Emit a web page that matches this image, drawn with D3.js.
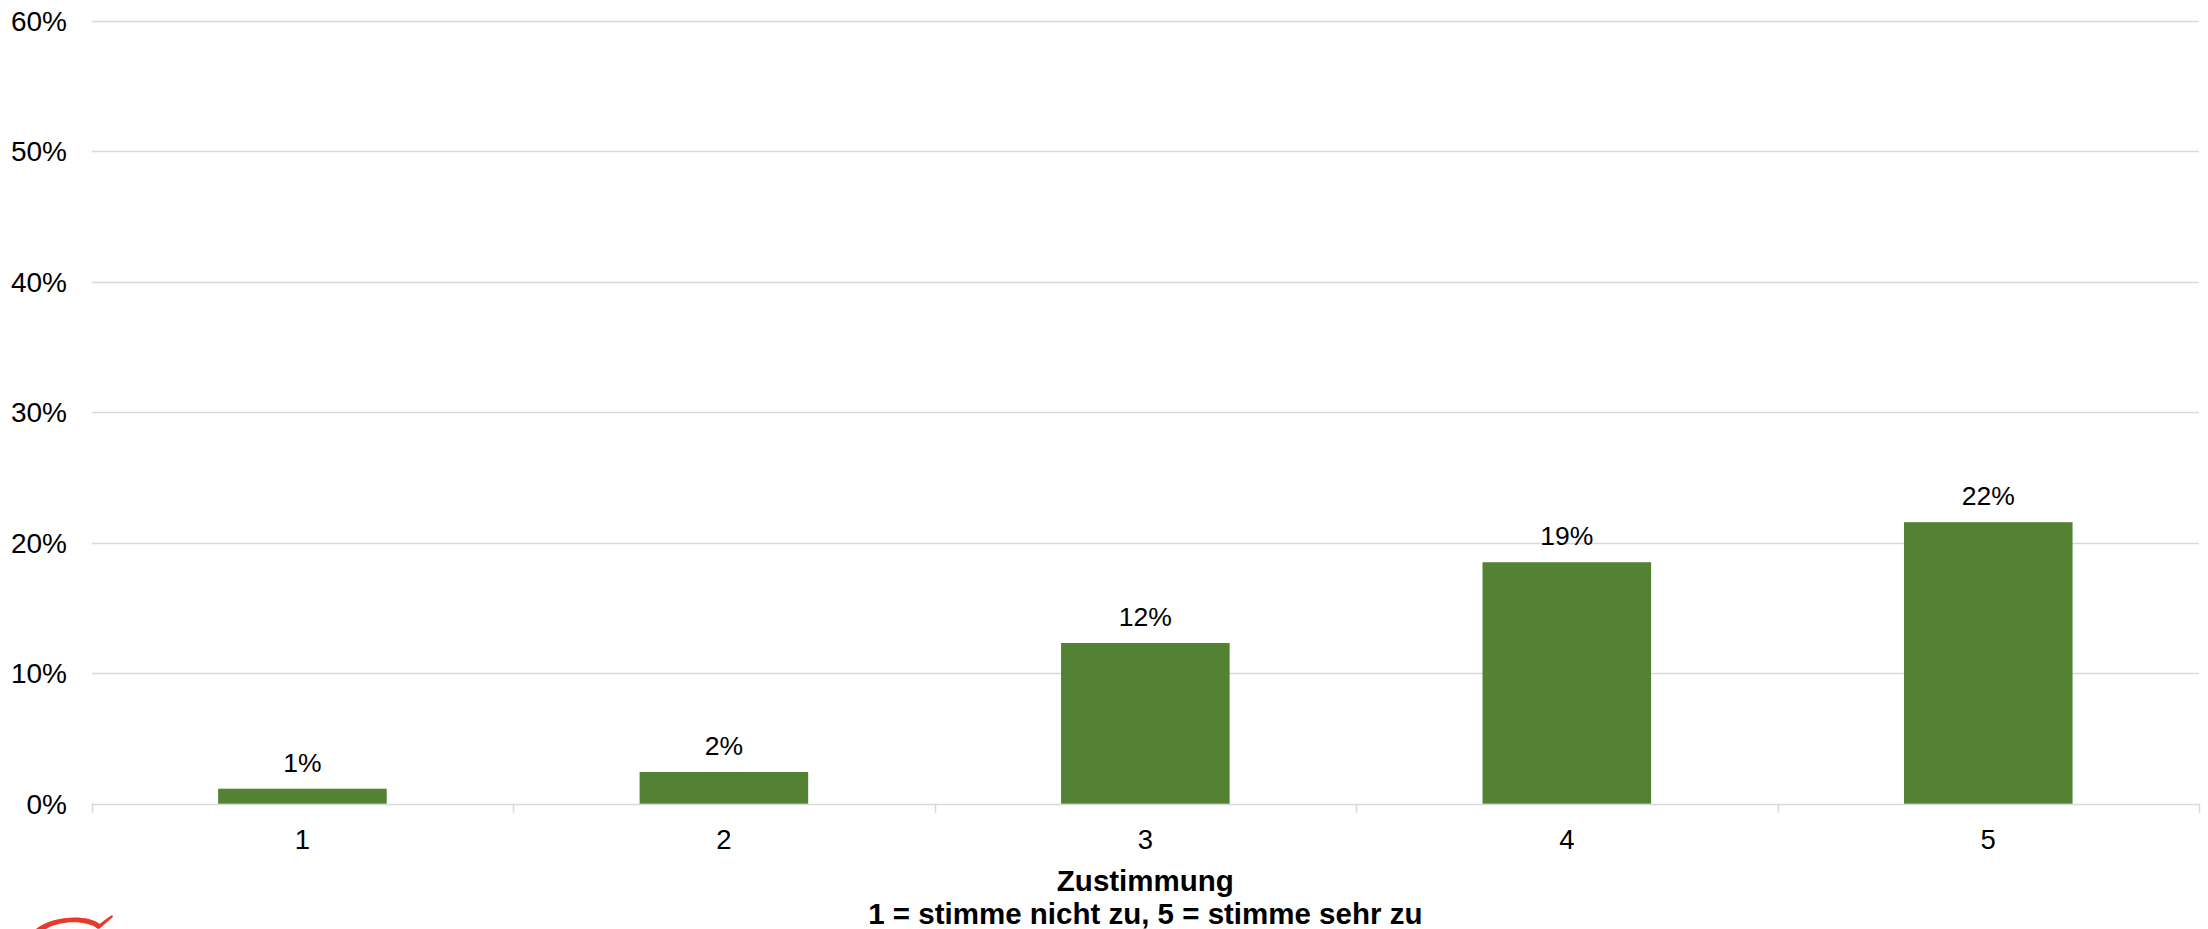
<!DOCTYPE html>
<html>
<head>
<meta charset="utf-8">
<script src="https://cdn.jsdelivr.net/npm/d3@7"></script>
<style>
  html, body { margin: 0; padding: 0; background: #fff; }
  svg { display: block; font-family: Arial, "Liberation Sans", sans-serif; }
</style>
</head>
<body>
<svg id="chart" width="2208" height="929"></svg>
<script>
const categories = ["1", "2", "3", "4", "5"];
const values = [1.15, 2.43, 12.32, 18.51, 21.58];
const valueLabels = ["1%", "2%", "12%", "19%", "22%"];
const yTicks = [0, 10, 20, 30, 40, 50, 60];
const titleLines = ["Zustimmung", "1 = stimme nicht zu, 5 = stimme sehr zu"];

(function () {
const svg = d3.select("#chart");
const plotLeft = 91.7, plotRight = 2199, plotTop = 21, plotBottom = 803.7;

const x = d3.scaleBand().domain(categories).range([plotLeft, plotRight]).paddingInner(0.6).paddingOuter(0.3);
const y = d3.scaleLinear().domain([0, 60]).range([plotBottom, plotTop]);

// gridlines
svg.append("g").selectAll("line").data(yTicks).join("line")
  .attr("x1", plotLeft).attr("x2", plotRight)
  .attr("y1", d => Math.round(y(d)) + 0.5).attr("y2", d => Math.round(y(d)) + 0.5)
  .attr("stroke", "#d9d9d9").attr("stroke-width", 1.5);

// y labels
svg.append("g").selectAll("text").data(yTicks).join("text")
  .attr("x", 67).attr("y", d => y(d) + 10)
  .attr("text-anchor", "end").attr("font-size", 28).attr("fill", "#000")
  .text(d => d + "%");

// x category ticks (boundaries)
const step = x.step();
const boundaries = d3.range(categories.length + 1).map(i => plotLeft + i * step);
svg.append("g").selectAll("line").data(boundaries).join("line")
  .attr("x1", d => Math.round(d) + 0.5).attr("x2", d => Math.round(d) + 0.5)
  .attr("y1", plotBottom).attr("y2", plotBottom + 9)
  .attr("stroke", "#d9d9d9").attr("stroke-width", 1.5);

// bars
svg.append("g").selectAll("rect").data(values).join("rect")
  .attr("x", (d, i) => x(categories[i])).attr("width", x.bandwidth())
  .attr("y", d => y(d)).attr("height", d => plotBottom - y(d))
  .attr("fill", "#548235");

// value labels
svg.append("g").selectAll("text").data(values).join("text")
  .attr("x", (d, i) => x(categories[i]) + x.bandwidth() / 2)
  .attr("y", d => y(d) - 17)
  .attr("text-anchor", "middle").attr("font-size", 26.5).attr("fill", "#000")
  .text((d, i) => valueLabels[i]);

// category labels
svg.append("g").selectAll("text").data(categories).join("text")
  .attr("x", d => x(d) + x.bandwidth() / 2).attr("y", 849)
  .attr("text-anchor", "middle").attr("font-size", 27.5).attr("fill", "#000")
  .text(d => d);

// axis title
svg.append("g").selectAll("text").data(titleLines).join("text")
  .attr("x", (plotLeft + plotRight) / 2).attr("y", (d, i) => 891 + i * 33)
  .attr("text-anchor", "middle").attr("font-size", 29.5).attr("font-weight", "bold").attr("fill", "#000")
  .text(d => d);

// logo swoosh (partially visible)
svg.append("path")
  .attr("d", "M36,929 C50,917 85,913 100,924 L98,929 C88,920 60,920 46,929 Z")
  .attr("fill", "#e8392a");
svg.append("path")
  .attr("d", "M96,927 C102,922 107,918 112,915 L113,917 C108,921 104,925 99,929 Z")
  .attr("fill", "#e8392a");
})();
</script>
</body>
</html>
